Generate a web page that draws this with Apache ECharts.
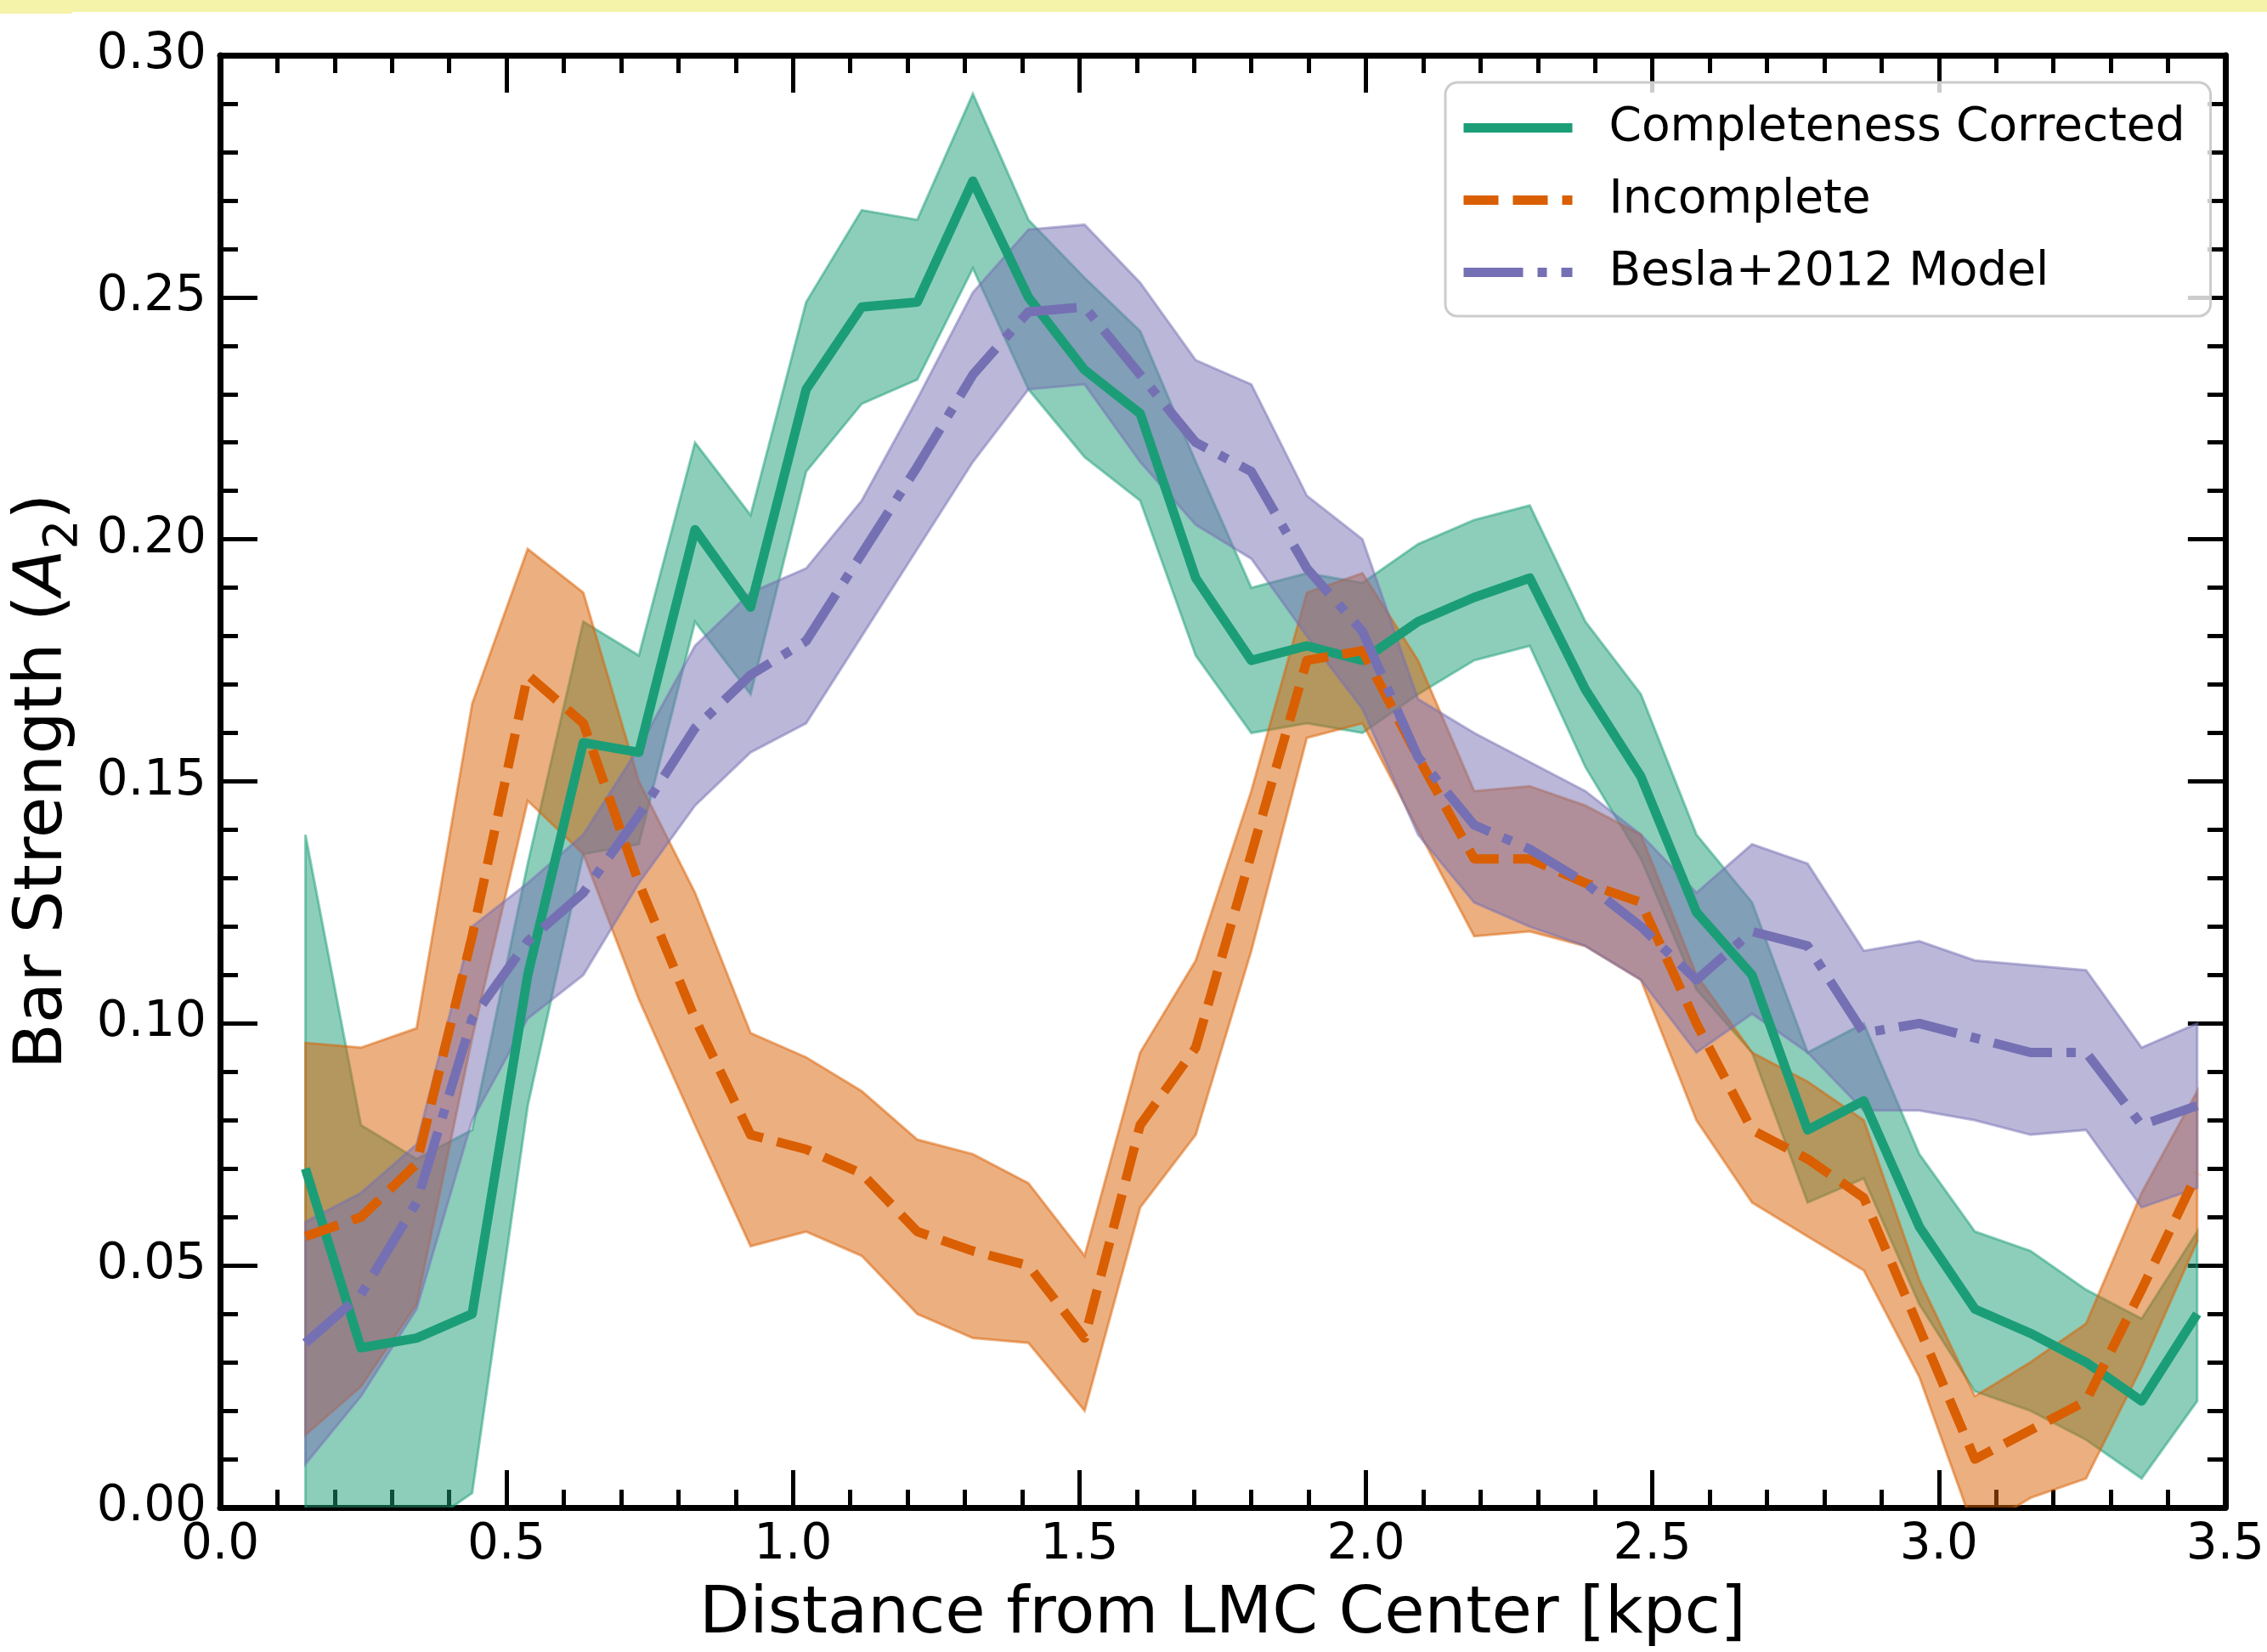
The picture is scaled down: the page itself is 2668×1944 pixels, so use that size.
<!DOCTYPE html>
<html>
<head>
<meta charset="utf-8">
<script src="https://cdn.jsdelivr.net/npm/echarts@6/dist/echarts.min.js"></script>
<style>
html, body { margin: 0; padding: 0; background: #fff; }
#main { width: 2668px; height: 1944px; }
</style>
</head>
<body>
<div id="main"></div>
<script>
// bin centres [kpc]
var radius = [0.149, 0.246, 0.343, 0.440, 0.537, 0.634, 0.731, 0.829, 0.926, 1.023,
              1.120, 1.217, 1.314, 1.411, 1.509, 1.606, 1.703, 1.800, 1.897, 1.994,
              2.091, 2.189, 2.286, 2.383, 2.480, 2.577, 2.674, 2.771, 2.869, 2.966,
              3.063, 3.160, 3.257, 3.354, 3.451];

// Completeness Corrected
var corrected      = [0.070, 0.033, 0.035, 0.040, 0.110, 0.158, 0.156, 0.202, 0.186, 0.231,
                      0.248, 0.249, 0.274, 0.250, 0.235, 0.226, 0.192, 0.175, 0.178, 0.175,
                      0.183, 0.188, 0.192, 0.169, 0.151, 0.123, 0.110, 0.078, 0.084, 0.058,
                      0.041, 0.036, 0.030, 0.022, 0.040];
var correctedHigh  = [0.139, 0.079, 0.072, 0.078, 0.133, 0.183, 0.176, 0.220, 0.205, 0.249,
                      0.268, 0.266, 0.292, 0.266, 0.254, 0.243, 0.216, 0.190, 0.193, 0.191,
                      0.199, 0.204, 0.207, 0.183, 0.168, 0.139, 0.125, 0.094, 0.100, 0.073,
                      0.057, 0.053, 0.045, 0.039, 0.057];
var correctedLow   = [-0.020, -0.010, -0.005, 0.003, 0.083, 0.135, 0.137, 0.183, 0.168, 0.214,
                      0.228, 0.233, 0.256, 0.231, 0.217, 0.208, 0.176, 0.160, 0.162, 0.160,
                      0.168, 0.175, 0.178, 0.153, 0.134, 0.107, 0.094, 0.063, 0.068, 0.042,
                      0.024, 0.020, 0.014, 0.006, 0.022];

// Incomplete
var incomplete     = [0.056, 0.060, 0.071, 0.118, 0.172, 0.162, 0.129, 0.101, 0.077, 0.074,
                      0.069, 0.057, 0.053, 0.050, 0.035, 0.079, 0.095, 0.135, 0.175, 0.177,
                      0.155, 0.134, 0.134, 0.129, 0.125, 0.100, 0.078, 0.072, 0.064, 0.037,
                      0.010, 0.016, 0.022, 0.045, 0.069];
var incompleteHigh = [0.096, 0.095, 0.099, 0.166, 0.198, 0.189, 0.150, 0.127, 0.098, 0.093,
                      0.086, 0.076, 0.073, 0.067, 0.052, 0.094, 0.113, 0.148, 0.189, 0.193,
                      0.175, 0.148, 0.149, 0.145, 0.139, 0.110, 0.094, 0.088, 0.080, 0.047,
                      0.023, 0.030, 0.038, 0.065, 0.086];
var incompleteLow  = [0.015, 0.025, 0.042, 0.097, 0.146, 0.135, 0.105, 0.079, 0.054, 0.057,
                      0.052, 0.040, 0.035, 0.034, 0.020, 0.062, 0.077, 0.115, 0.159, 0.162,
                      0.140, 0.118, 0.119, 0.116, 0.109, 0.080, 0.063, 0.056, 0.049, 0.027,
                      -0.005, 0.002, 0.006, 0.029, 0.055];

// Besla+2012 Model
var model          = [0.034, 0.044, 0.063, 0.101, 0.117, 0.127, 0.143, 0.161, 0.172, 0.179,
                      0.197, 0.215, 0.234, 0.247, 0.248, 0.234, 0.220, 0.214, 0.194, 0.181,
                      0.155, 0.141, 0.136, 0.129, 0.120, 0.109, 0.119, 0.116, 0.098, 0.100,
                      0.097, 0.094, 0.094, 0.079, 0.083];
var modelHigh      = [0.059, 0.065, 0.075, 0.120, 0.129, 0.139, 0.157, 0.178, 0.189, 0.194,
                      0.208, 0.229, 0.251, 0.264, 0.265, 0.253, 0.237, 0.232, 0.209, 0.200,
                      0.167, 0.160, 0.154, 0.148, 0.139, 0.127, 0.137, 0.133, 0.115, 0.117,
                      0.113, 0.112, 0.111, 0.095, 0.100];
var modelLow       = [0.009, 0.023, 0.041, 0.080, 0.101, 0.110, 0.129, 0.145, 0.156, 0.162,
                      0.180, 0.198, 0.216, 0.231, 0.232, 0.216, 0.203, 0.196, 0.180, 0.165,
                      0.139, 0.125, 0.120, 0.116, 0.109, 0.094, 0.102, 0.094, 0.082, 0.082,
                      0.080, 0.077, 0.078, 0.062, 0.066];

var FONT = 'DejaVu Sans';
var GREEN = '#1b9e77', ORANGE = '#d95f02', PURPLE = '#7570b3';
var LW = 11;
var DASH = [41, 17], DASHDOT = [70, 17, 11, 17];

function pairs(ys) {
	return radius.map(function (r, i) { return [r, ys[i]]; });
}

// shaded band drawn as one polygon through the axis scales
function band(low, high, fill, edge) {
	return {
		type: 'custom',
		clip: true,
		silent: true,
		z: 1,
		data: radius.map(function (r, i) { return [r, low[i], high[i]]; }),
		encode: { x: 0, y: [1, 2] },
		renderItem: function (params, api) {
			if (params.dataIndex !== 0) return;
			var pts = [];
			for (var i = 0; i < radius.length; i++) pts.push(api.coord([radius[i], high[i]]));
			for (var j = radius.length - 1; j >= 0; j--) pts.push(api.coord([radius[j], low[j]]));
			return {
				type: 'polygon',
				shape: { points: pts },
				style: { fill: fill, stroke: edge, lineWidth: 3 }
			};
		}
	};
}

function axisCommon(extra) {
	var a = {
		type: 'value',
		axisLine: { show: true, onZero: false, lineStyle: { color: '#000', width: 7 } },
		axisTick: { show: true, inside: true, length: 44, lineStyle: { color: '#000', width: 5 } },
		minorTick: { show: true, splitNumber: 5, length: 21, lineStyle: { color: '#000', width: 5 } },
		splitLine: { show: false },
		minorSplitLine: { show: false }
	};
	for (var k in extra) a[k] = extra[k];
	return a;
}

var myChart = echarts.init(document.getElementById('main'));
var option = {
	backgroundColor: '#ffffff',
	animation: false,
	graphic: [
		{ type: 'rect', left: 0, top: 0, shape: { width: 2668, height: 14 }, style: { fill: '#f5f2a9' }, z: 100 },
		{ type: 'rect', left: 0, top: 0, shape: { width: 85, height: 16 }, style: { fill: '#f5f2a9' }, z: 100 }
	],
	grid: { left: 259, right: 48, top: 65, bottom: 162, containLabel: false },
	legend: {
		data: [
			{ name: 'Completeness Corrected', lineStyle: { color: GREEN, width: LW, type: 'solid' } },
			{ name: 'Incomplete', lineStyle: { color: ORANGE, width: LW, type: DASH } },
			{ name: 'Besla+2012 Model', lineStyle: { color: PURPLE, width: LW, type: DASHDOT } }
		],
		orient: 'vertical',
		left: 1701,
		top: 97,
		padding: [26, 30, 24, 16],
		itemWidth: 128,
		itemHeight: 2,
		itemGap: 30,
		itemStyle: { opacity: 0 },
		backgroundColor: 'rgba(255,255,255,0.8)',
		borderColor: '#cccccc',
		borderWidth: 3,
		borderRadius: 14,
		textStyle: { fontFamily: FONT, fontSize: 55, color: '#000', padding: [0, 0, 0, 38] }
	},
	xAxis: [
		axisCommon({
			position: 'bottom', min: 0, max: 3.5, interval: 0.5,
			axisLabel: { fontFamily: FONT, fontSize: 58, color: '#000', margin: 16,
				formatter: function (v) { return v.toFixed(1); } },
			name: 'Distance from LMC Center [kpc]',
			nameLocation: 'middle',
			nameGap: 88,
			nameTextStyle: { fontFamily: FONT, fontSize: 77, color: '#000' }
		}),
		axisCommon({
			position: 'top', min: 0, max: 3.5, interval: 0.5,
			axisLabel: { show: false }
		})
	],
	yAxis: [
		axisCommon({
			position: 'left', min: 0, max: 0.30, interval: 0.05,
			axisLabel: { fontFamily: FONT, fontSize: 58, color: '#000', margin: 16,
				formatter: function (v) { return v.toFixed(2); } },
			name: '{t|Bar Strength (}{it|A}{sub|2}{t|)}',
			nameLocation: 'middle',
			nameGap: 142,
			nameTextStyle: {
				fontFamily: FONT, fontSize: 79, color: '#000',
				rich: {
					t: { fontFamily: FONT, fontSize: 79, color: '#000', lineHeight: 84, verticalAlign: 'top' },
					it: { fontFamily: FONT, fontSize: 79, color: '#000', fontStyle: 'italic', lineHeight: 84, verticalAlign: 'top' },
					sub: { fontFamily: FONT, fontSize: 55, color: '#000', lineHeight: 55, padding: [36, 0, 0, 0], verticalAlign: 'top' }
				}
			}
		}),
		axisCommon({
			position: 'right', min: 0, max: 0.30, interval: 0.05,
			axisLabel: { show: false }
		})
	],
	series: [
		band(correctedLow, correctedHigh, 'rgba(27,158,119,0.5)', 'rgba(27,158,119,0.5)'),
		band(incompleteLow, incompleteHigh, 'rgba(217,95,2,0.5)', 'rgba(217,95,2,0.5)'),
		band(modelLow, modelHigh, 'rgba(117,112,179,0.5)', 'rgba(117,112,179,0.5)'),
		{
			name: 'Completeness Corrected', type: 'line', z: 5, symbol: 'none',
			data: pairs(corrected),
			itemStyle: { color: GREEN },
			lineStyle: { color: GREEN, width: LW, join: 'round' }
		},
		{
			name: 'Incomplete', type: 'line', z: 5, symbol: 'none',
			data: pairs(incomplete),
			itemStyle: { color: ORANGE },
			lineStyle: { color: ORANGE, width: LW, type: DASH, join: 'round' }
		},
		{
			name: 'Besla+2012 Model', type: 'line', z: 5, symbol: 'none',
			data: pairs(model),
			itemStyle: { color: PURPLE },
			lineStyle: { color: PURPLE, width: LW, type: DASHDOT, join: 'round' }
		}
	]
};
myChart.setOption(option);
</script>
</body>
</html>
